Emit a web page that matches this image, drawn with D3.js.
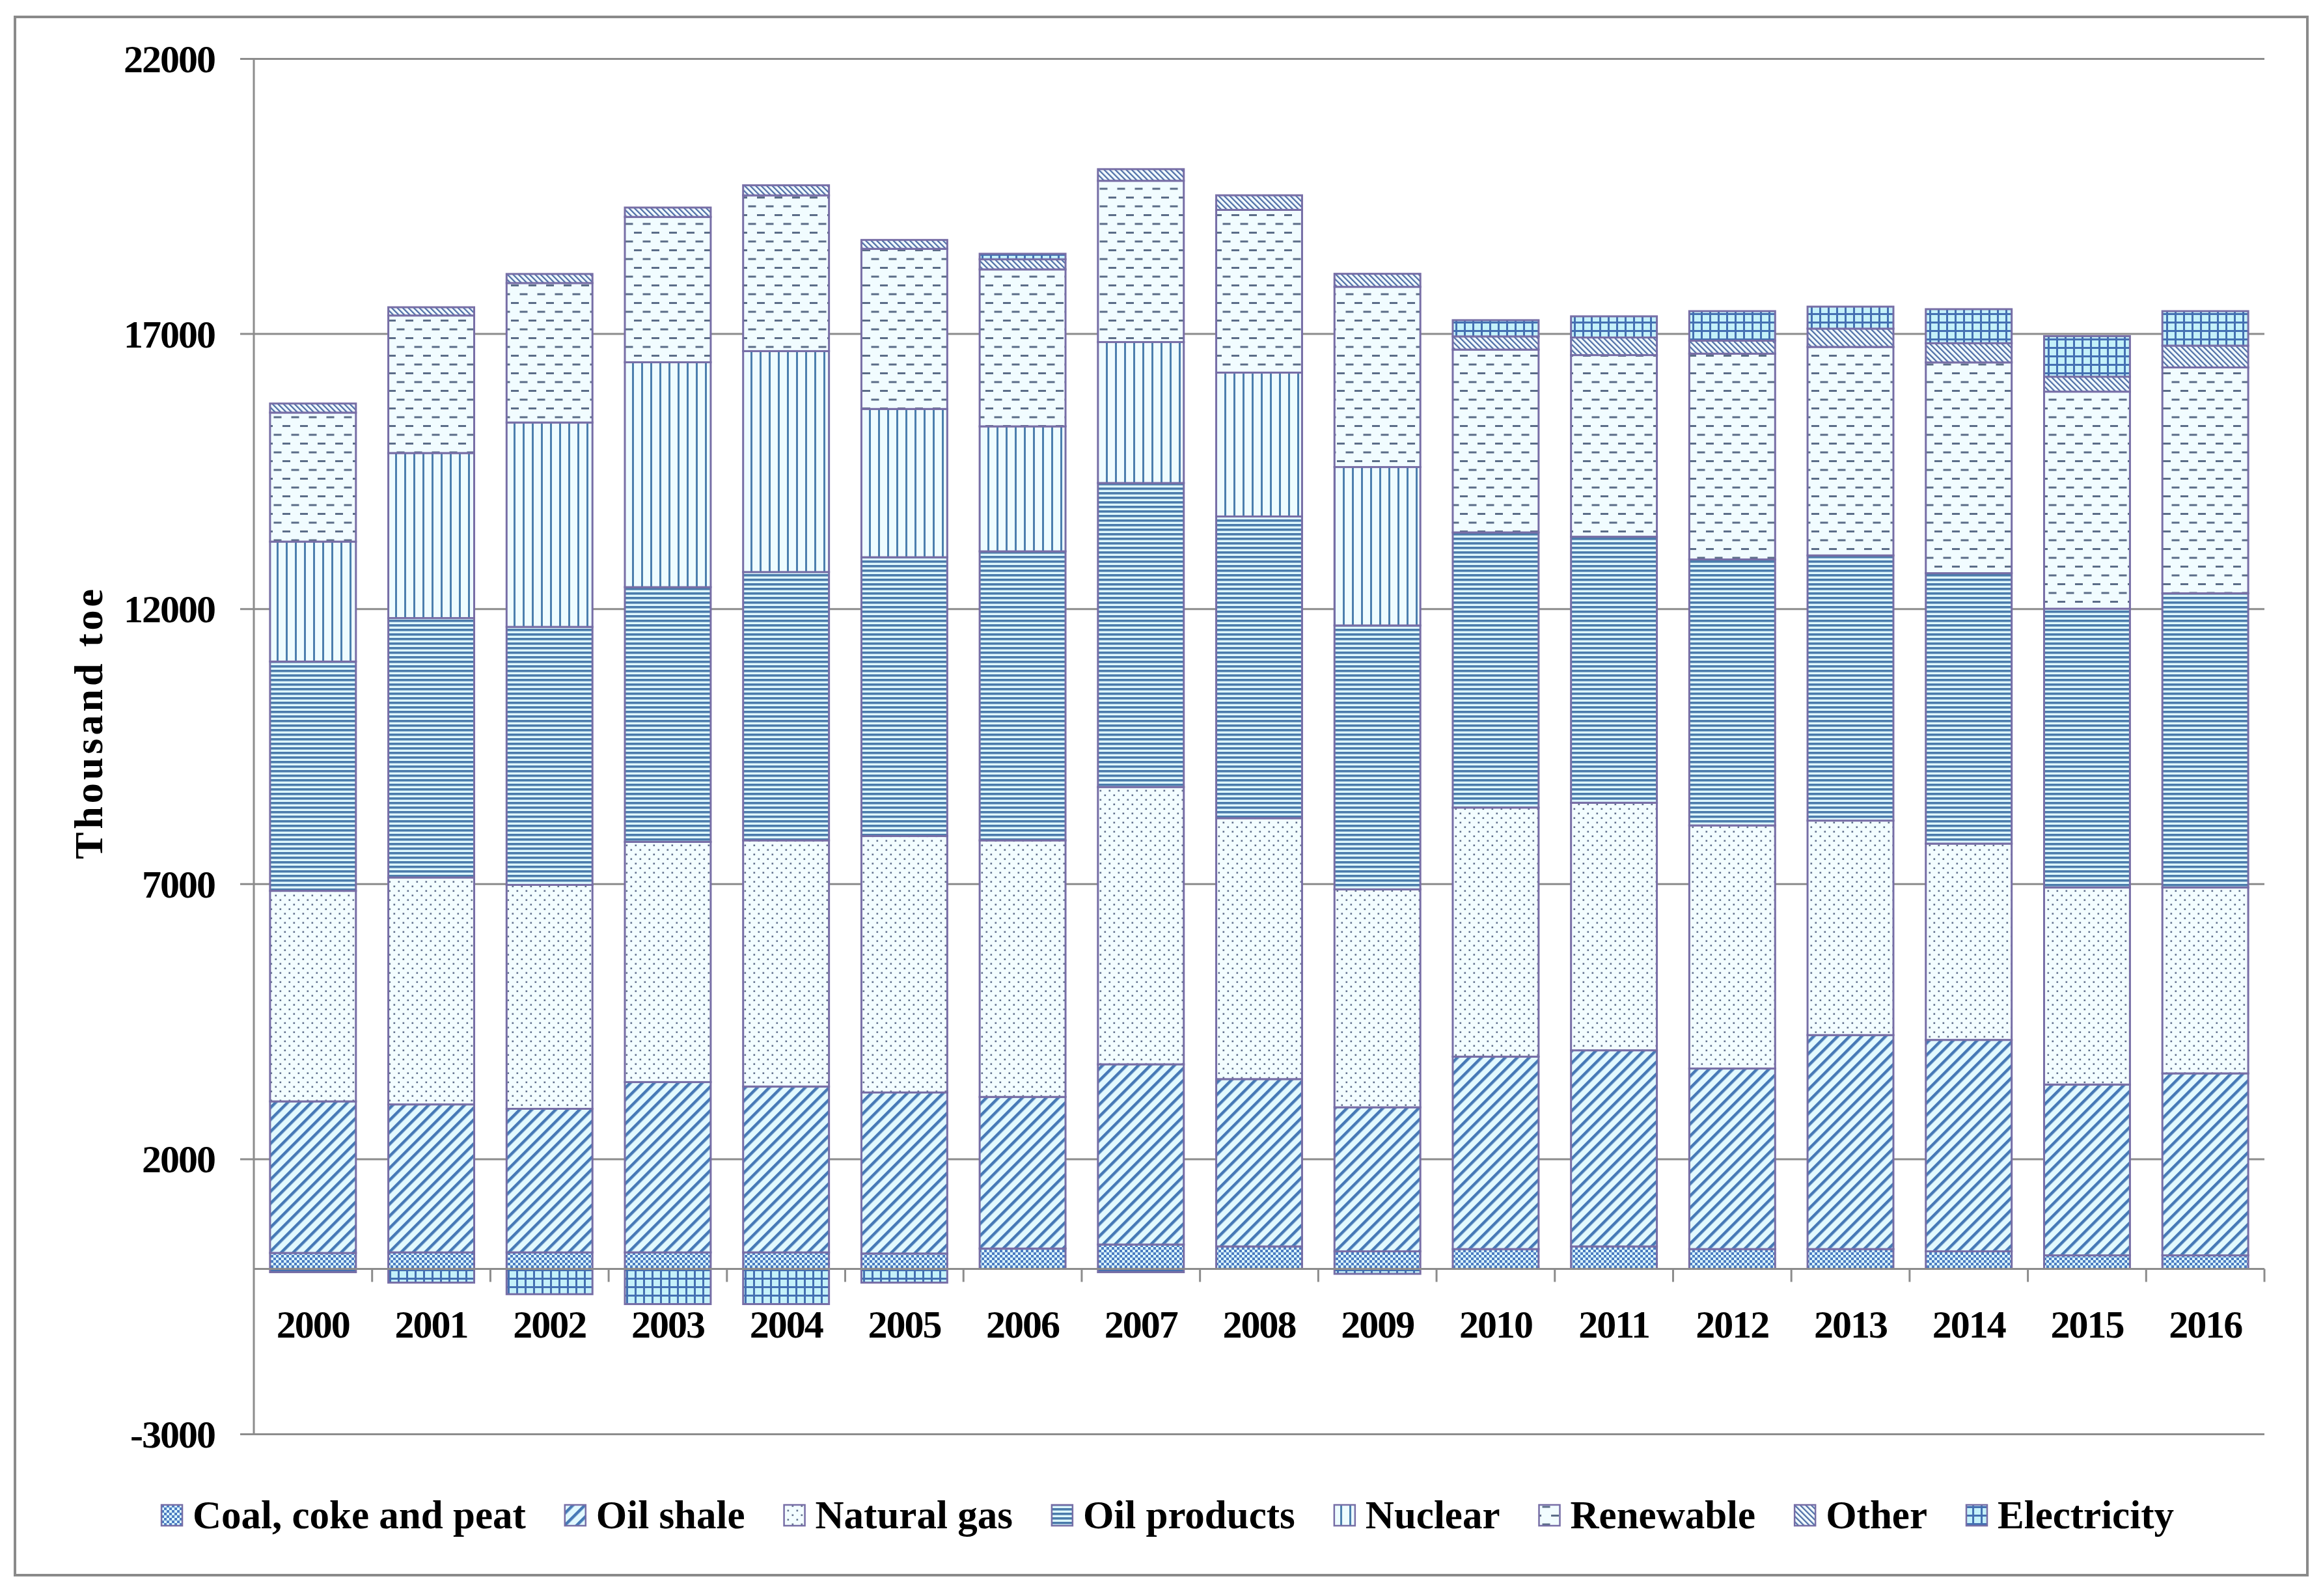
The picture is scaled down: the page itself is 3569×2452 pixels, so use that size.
<!DOCTYPE html>
<html>
<head>
<meta charset="utf-8">
<script src="https://cdn.jsdelivr.net/npm/d3@7"></script>
<style>
  html, body { margin: 0; padding: 0; background: #ffffff; }
  svg { display: block; }
  text { font-family: "Liberation Serif", "DejaVu Serif", serif; fill: #000; }
</style>
</head>
<body>
<svg id="chart" width="3569" height="2452"></svg>
<script>
// ---------------- data ----------------
const years = ["2000","2001","2002","2003","2004","2005","2006","2007","2008","2009","2010","2011","2012","2013","2014","2015","2016"];
const seriesNames = ["Coal, coke and peat","Oil shale","Natural gas","Oil products","Nuclear","Renewable","Other","Electricity"];
const coal        = [290, 300, 300, 300, 300, 280, 370, 443, 408, 320, 360, 408, 360, 360, 320, 246, 246];
const oilShale    = [2755, 2690, 2610, 3096, 3015, 2927, 2756, 3276, 3042, 2617, 3498, 3565, 3282, 3890, 3842, 3105, 3308];
const naturalGas  = [3827, 4125, 4070, 4366, 4474, 4662, 4663, 5040, 4743, 3962, 4527, 4500, 4419, 3899, 3568, 3581, 3378];
const oilProducts = [4168, 4715, 4690, 4630, 4878, 5067, 5254, 5526, 5484, 4797, 5002, 4836, 4835, 4820, 4916, 5068, 5348];
const nuclear     = [2180, 3000, 3715, 4088, 4016, 2695, 2272, 2562, 2615, 2879, 0, 0, 0, 0, 0, 0, 0];
const renewable   = [2345, 2500, 2535, 2642, 2831, 2911, 2853, 2932, 2958, 3276, 3323, 3301, 3740, 3790, 3831, 3946, 4106];
const other       = [165, 150, 165, 170, 183, 161, 184, 211, 265, 237, 240, 320, 237, 332, 350, 272, 396];
const electricity = [-60, -250, -460, -640, -640, -250, 100, -60, 0, -90, 295, 385, 536, 400, 618, 737, 627];
const yTicks = [-3000, 2000, 7000, 12000, 17000, 22000];
const yTickLabels = ["-3000", "2000", "7000", "12000", "17000", "22000"];
const yTitle = "Thousand toe";

const seriesValues = [coal, oilShale, naturalGas, oilProducts, nuclear, renewable, other, electricity];
const keys = seriesNames;
const rows = years.map((yr, i) => {
  const r = { year: yr };
  keys.forEach((k, j) => { r[k] = seriesValues[j][i]; });
  return r;
});

// ---------------- layout ----------------
const W = 3569, H = 2452;
const plot = { left: 390, right: 3479, top: 90, bottom: 2203 };
const svg = d3.select("#chart");

svg.append("rect").attr("x", 0).attr("y", 0).attr("width", W).attr("height", H).attr("fill", "#fff");
svg.append("rect").attr("x", 23).attr("y", 26).attr("width", 3522).attr("height", 2394)
  .attr("fill", "#fff").attr("stroke", "#8a8a8a").attr("stroke-width", 4);

// ---------------- patterns ----------------
const defs = svg.append("defs");
const LIGHT = "#e2f9fe";

function pat(id, w, h, transform) {
  const p = defs.append("pattern").attr("id", id).attr("patternUnits", "userSpaceOnUse")
    .attr("width", w).attr("height", h);
  if (transform) p.attr("patternTransform", transform);
  return p;
}
// 0 coal: checker
{
  const p = pat("pat0", 8, 8);
  p.append("rect").attr("width", 8).attr("height", 8).attr("fill", "#dcf7fd");
  p.append("rect").attr("x", 0).attr("y", 0).attr("width", 4).attr("height", 4).attr("fill", "#4b7cc2");
  p.append("rect").attr("x", 4).attr("y", 4).attr("width", 4).attr("height", 4).attr("fill", "#4b7cc2");
}
// 1 oil shale: wide "/" stripes
{
  const p = pat("pat1", 13, 13, "rotate(45)");
  p.append("rect").attr("width", 13).attr("height", 13).attr("fill", LIGHT);
  p.append("rect").attr("x", 0).attr("width", 4.5).attr("height", 13).attr("fill", "#4679b6");
}
// 2 natural gas: dots
{
  const p = pat("pat2", 14, 14);
  p.append("rect").attr("width", 14).attr("height", 14).attr("fill", "#f3fdff");
  p.append("rect").attr("x", 2.5).attr("y", 2.5).attr("width", 2.6).attr("height", 2.6).attr("fill", "#5f6f8c");
  p.append("rect").attr("x", 9.5).attr("y", 9.5).attr("width", 2.6).attr("height", 2.6).attr("fill", "#5f6f8c");
}
// 3 oil products: horizontal lines
{
  const p = pat("pat3", 7, 7);
  p.append("rect").attr("width", 7).attr("height", 7).attr("fill", "#dff8fd");
  p.append("rect").attr("y", 0).attr("width", 7).attr("height", 3.6).attr("fill", "#4b7cac");
}
// 4 nuclear: vertical lines
{
  const p = pat("pat4", 14, 14);
  p.append("rect").attr("width", 14).attr("height", 14).attr("fill", "#eefcff");
  p.append("rect").attr("x", 5).attr("width", 3).attr("height", 14).attr("fill", "#4c7fae");
}
// 5 renewable: dashed horizontal lines
{
  const p = pat("pat5", 27, 27);
  p.append("rect").attr("width", 27).attr("height", 27).attr("fill", "#f1fcff");
  p.append("rect").attr("x", 2).attr("y", 5).attr("width", 12).attr("height", 3).attr("fill", "#5b6d88");
  p.append("rect").attr("x", 15.5).attr("y", 18.5).attr("width", 12).attr("height", 3).attr("fill", "#5b6d88");
  p.append("rect").attr("x", -11.5).attr("y", 18.5).attr("width", 12).attr("height", 3).attr("fill", "#5b6d88");
}
// 6 other: narrow "\" stripes
{
  const p = pat("pat6", 6, 6, "rotate(-45)");
  p.append("rect").attr("width", 6).attr("height", 6).attr("fill", "#f4fdff");
  p.append("rect").attr("x", 0).attr("width", 2.3).attr("height", 6).attr("fill", "#4e6ea6");
}
// 7 electricity: grid
{
  const p = pat("pat7", 13, 13);
  p.append("rect").attr("width", 13).attr("height", 13).attr("fill", "#c4f1fa");
  p.append("rect").attr("x", 0).attr("y", 0).attr("width", 13).attr("height", 3).attr("fill", "#4470b2");
  p.append("rect").attr("x", 0).attr("y", 0).attr("width", 3).attr("height", 13).attr("fill", "#4470b2");
}

// ---------------- scales ----------------
const x = d3.scaleBand().domain(years).range([plot.left, plot.right])
  .paddingInner(0.274).paddingOuter(0.137);
const y = d3.scaleLinear().domain([-3000, 22000]).range([plot.bottom, plot.top]);

const FONT = '"Liberation Serif", "DejaVu Serif", serif';
const GRID = "#8c8c8c";

// gridlines + y axis with outward ticks
const yAxis = d3.axisLeft(y).tickValues(yTicks).tickSize(plot.right - plot.left + 21).tickPadding(39)
  .tickFormat((d, i) => yTickLabels[i]);
const gy = svg.append("g").attr("transform", `translate(${plot.right},0)`).call(yAxis);
gy.select(".domain").remove();
gy.selectAll(".tick line").attr("stroke", GRID).attr("stroke-width", 3);
gy.selectAll(".tick text").attr("font-family", FONT).attr("font-weight", "bold")
  .attr("font-size", 60).attr("letter-spacing", -2).attr("fill", "#000").attr("dy", "0.34em");

svg.append("line").attr("x1", plot.left).attr("x2", plot.left).attr("y1", plot.top).attr("y2", plot.bottom)
  .attr("stroke", GRID).attr("stroke-width", 3);

// ---------------- bars ----------------
const stack = d3.stack().keys(keys).offset(d3.stackOffsetDiverging);
const stacked = stack(rows);

const barsG = svg.append("g");
stacked.forEach((s, si) => {
  barsG.append("g").selectAll("rect")
    .data(s.filter(d => d[1] !== d[0]))
    .join("rect")
    .attr("x", d => x(d.data.year))
    .attr("width", x.bandwidth())
    .attr("y", d => y(Math.max(d[0], d[1])))
    .attr("height", d => Math.abs(y(d[0]) - y(d[1])))
    .attr("fill", `url(#pat${si})`)
    .attr("stroke", "#776ea6")
    .attr("stroke-width", 3);
});

// category axis at zero
const gx = svg.append("g").attr("transform", `translate(0,${y(0)})`);
gx.append("line").attr("x1", plot.left).attr("x2", plot.right).attr("y1", 0).attr("y2", 0)
  .attr("stroke", GRID).attr("stroke-width", 3);
gx.selectAll("line.sep").data(d3.range(1, years.length + 1)).join("line").attr("class", "sep")
  .attr("x1", i => plot.left + i * (plot.right - plot.left) / years.length)
  .attr("x2", i => plot.left + i * (plot.right - plot.left) / years.length)
  .attr("y1", 0).attr("y2", 20).attr("stroke", GRID).attr("stroke-width", 3);
gx.selectAll("text.cat").data(years).join("text").attr("class", "cat")
  .attr("x", d => x(d) + x.bandwidth() / 2)
  .attr("y", 106)
  .attr("text-anchor", "middle")
  .attr("font-family", FONT).attr("font-weight", "bold").attr("font-size", 60).attr("letter-spacing", -2)
  .text(d => d);

// y-axis title
svg.append("text")
  .attr("transform", `translate(157,${1110}) rotate(-90)`)
  .attr("text-anchor", "middle")
  .attr("font-family", FONT).attr("font-weight", "bold").attr("font-size", 62).attr("letter-spacing", 5)
  .text(yTitle);

// ---------------- legend ----------------
const legend = svg.append("g");
const legendY = 2329;
let cx = 0;
seriesNames.forEach((name, i) => {
  const g = legend.append("g");
  g.append("rect").attr("x", cx).attr("y", legendY - 17).attr("width", 32).attr("height", 32)
    .attr("fill", `url(#pat${i})`).attr("stroke", "#776ea6").attr("stroke-width", 2.5);
  const t = g.append("text").attr("x", cx + 48).attr("y", legendY + 19)
    .attr("font-family", FONT).attr("font-weight", "bold").attr("font-size", 61)
    .text(name);
  const tw = t.node().getComputedTextLength();
  cx = cx + 48 + tw + 60;
});
const totalW = cx - 60;
const legendCenter = 1794;
legend.attr("transform", `translate(${legendCenter - totalW / 2},0)`);
</script>
</body>
</html>
